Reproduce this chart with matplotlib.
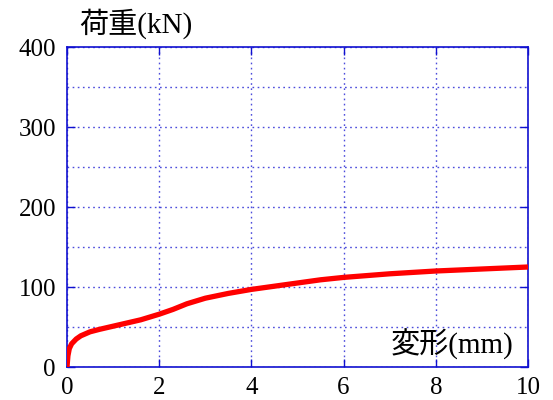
import matplotlib
matplotlib.use("Agg")
import matplotlib.pyplot as plt
import numpy as np

# Load–deformation curve
deform_mm = [0.0, 0.02, 0.05, 0.1, 0.2, 0.3, 0.5, 0.7, 1.0, 1.3, 1.6, 2.0, 2.3, 2.6, 3.0, 3.5, 4.0, 4.5, 5.0, 5.5, 6.0, 7.0, 8.0, 9.0, 10.0]
load_kN   = [0.0, 14.0, 23.0, 29.0, 35.0, 39.0, 44.0, 47.0, 51.0, 55.0, 59.0, 66.0, 72.0, 79.0, 86.0, 92.0, 97.0, 101.0, 105.0, 109.0, 112.0, 116.5, 120.0, 122.5, 125.0]

x_ticks = [0, 2, 4, 6, 8, 10]
y_ticks = [0, 100, 200, 300, 400]

plt.rcParams['font.family'] = ['Liberation Serif', 'Noto Sans CJK JP']

fig = plt.figure(figsize=(5.53, 4.0), dpi=100)
ax = fig.add_axes([67/553, 33/400, (528-67)/553, (367-47)/400])

blue = '#1010d0'
ax.plot(deform_mm, load_kN, color='#ff0000', lw=3.8, solid_capstyle='butt', zorder=3)

ax.set_xlim(0, 10)
ax.set_ylim(0, 400)
ax.set_xticks(x_ticks)
ax.set_yticks(y_ticks)
ax.set_yticks(np.arange(50, 400, 100), minor=True)

ax.grid(True, which='both', color=blue, linestyle=(0, (1.2, 2.5)), lw=1.0, alpha=0.75)
for s in ax.spines.values():
    s.set_color(blue)
    s.set_linewidth(1.2)

ax.tick_params(axis='both', which='major', direction='in', color=blue, length=6,
               top=True, right=True, labelsize=18, width=1.0)
ax.tick_params(axis='both', which='minor', length=0)
ax.tick_params(axis='x', pad=7)
ax.tick_params(axis='y', pad=8)

fig.text(79/553, 1 - 24/400, '荷重(kN)', fontsize=21, va='center', ha='left')
ax.text(0.968, 0.07, '変形(mm)', transform=ax.transAxes, fontsize=21, ha='right', va='center')

fig.savefig('out.png', dpi=100)
